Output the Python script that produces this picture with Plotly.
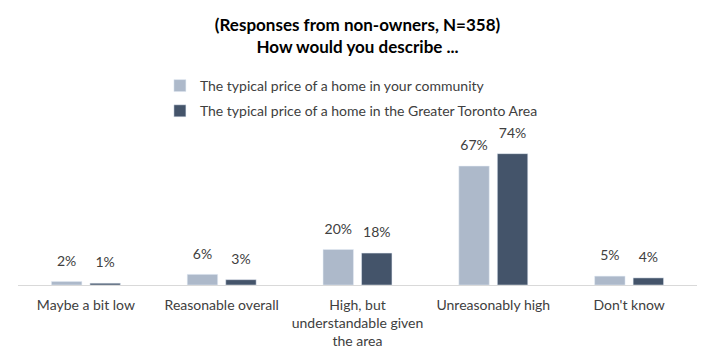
import plotly.graph_objects as go

categories = ["Maybe a bit low", "Reasonable overall", "High, but<br>understandable given<br>the area", "Unreasonably high", "Don't know"]
community = [2, 6, 20, 67, 5]
gta = [1, 3, 18, 74, 4]
series_names = ["The typical price of a home in your community",
                "The typical price of a home in the Greater Toronto Area"]
colors = ["#ADB9CA", "#44546A"]
labels_comm = [f"{v}%" for v in community]
labels_gta = [f"{v}%" for v in gta]

FONT = "Lato"
TXT = "#404040"
fig = go.Figure()
for name, vals, col, grp in [(series_names[0], community, colors[0], "a"),
                             (series_names[1], gta, colors[1], "b")]:
    fig.add_trace(go.Bar(x=categories, y=vals, name=name, marker_color=col,
                         legendgroup=grp, offsetgroup=grp, hoverinfo="skip"))
for vals, labs, grp in [(community, labels_comm, "a"), (gta, labels_gta, "b")]:
    fig.add_trace(go.Scatter(x=categories, y=vals, mode="markers+text", text=labs,
                             textposition="top center", offsetgroup=grp,
                             marker=dict(size=18, opacity=0), showlegend=False,
                             hoverinfo="skip", cliponaxis=False,
                             textfont=dict(size=14, color=TXT, family=FONT)))

fig.update_layout(
    width=717, height=362,
    margin=dict(l=10, r=28, t=135, b=85, autoexpand=False),
    paper_bgcolor="white", plot_bgcolor="white",
    barmode="group", bargap=0.433, bargroupgap=0.21,
    scattermode="group", scattergap=0.433,
    font=dict(family=FONT, size=14, color=TXT),
    title=dict(text="<b>(Responses from non-owners, N=358)<br>How would you describe ...</b>",
               x=0.4875, xanchor="center", yref="container", y=1 - 23 / 362, yanchor="middle",
               font=dict(size=17, color="#000000", family=FONT)),
    legend=dict(x=0.209, y=1.0 + (135 - 62) / 142, xanchor="left", yanchor="top",
                orientation="v", font=dict(size=14, color=TXT),
                itemwidth=30, tracegroupgap=4, bgcolor="rgba(0,0,0,0)"),
    showlegend=True,
)
fig.update_xaxes(showline=True, linecolor="#D9D9D9", linewidth=1, ticks="", automargin=False,
                 ticklabelstandoff=7, tickfont=dict(size=14, color=TXT))
fig.update_yaxes(range=[0, 80], visible=False, showgrid=False, automargin=False)

fig.write_html("out.html")
